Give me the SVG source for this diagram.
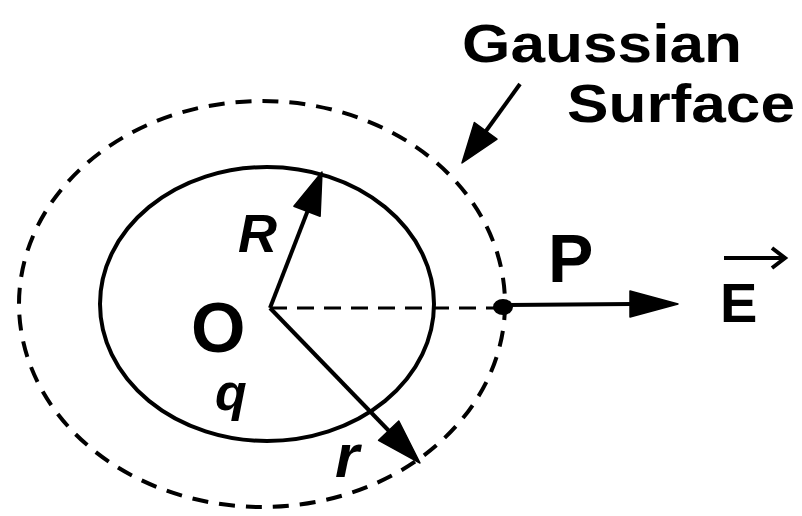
<svg xmlns="http://www.w3.org/2000/svg" width="802" height="516" viewBox="0 0 802 516">
<style>
.ln{stroke:#000;stroke-width:4;fill:none}
.dash{stroke:#000;stroke-width:4;fill:none;stroke-dasharray:16 11}
.head{fill:#000;stroke:#000;stroke-width:1.5;stroke-linejoin:round}
.t{font-family:"Liberation Sans",Arial,sans-serif;fill:#000}
</style>
<rect width="802" height="516" fill="#fff"/>
<g id="gaussian-surface">
<ellipse class="dash" cx="262" cy="304" rx="243" ry="203"/>
</g>
<g id="sphere">
<ellipse class="ln" cx="267" cy="304" rx="167" ry="137"/>
</g>
<g id="connectors">
<line x1="270" y1="308" x2="500" y2="308" stroke="#000" stroke-width="3" stroke-dasharray="17 10"/>
<line class="ln" x1="270" y1="308" x2="308" y2="210"/>
<polygon class="head" points="322,172 320.1,216.2 293.9,206.2"/>
<line class="ln" x1="270" y1="308" x2="390" y2="432"/>
<polygon class="head" points="420,463 398.8,421 378.6,440.4"/>
<line class="ln" x1="505" y1="305" x2="632" y2="304"/>
<polygon class="head" points="678,304 630,291 630,317"/>
<line class="ln" x1="520" y1="84" x2="486" y2="131"/>
<polygon class="head" points="462,163 497,139.1 474.4,122.5"/>
</g>
<g id="point-P">
<ellipse cx="503" cy="307" rx="10" ry="8" fill="#000"/>
<text class="t" x="548" y="282" font-size="68" font-weight="bold">P</text>
</g>
<g id="label-O">
<text class="t" x="191" y="352" font-size="70" font-weight="bold">O</text>
</g>
<g id="label-R">
<text class="t" x="238" y="252" font-size="54" font-style="italic" font-weight="bold">R</text>
</g>
<g id="label-q">
<text class="t" x="215" y="410" font-size="52" font-style="italic" font-weight="bold">q</text>
</g>
<g id="label-r">
<text class="t" x="335" y="477" font-size="62" font-style="italic" font-weight="bold">r</text>
</g>
<g id="label-E">
<text class="t" x="720" y="322" font-size="56" font-weight="bold">E</text>
<line x1="724" y1="258" x2="782" y2="258" stroke="#000" stroke-width="4"/>
<path d="M772,248 L785,258 L772,268" stroke="#000" stroke-width="4" fill="none"/>
</g>
<g id="label-gaussian">
<text class="t" x="462" y="62" font-size="54" font-weight="bold" textLength="280" lengthAdjust="spacingAndGlyphs">Gaussian</text>
<text class="t" x="567" y="122" font-size="54" font-weight="bold" textLength="228" lengthAdjust="spacingAndGlyphs">Surface</text>
</g>
</svg>
